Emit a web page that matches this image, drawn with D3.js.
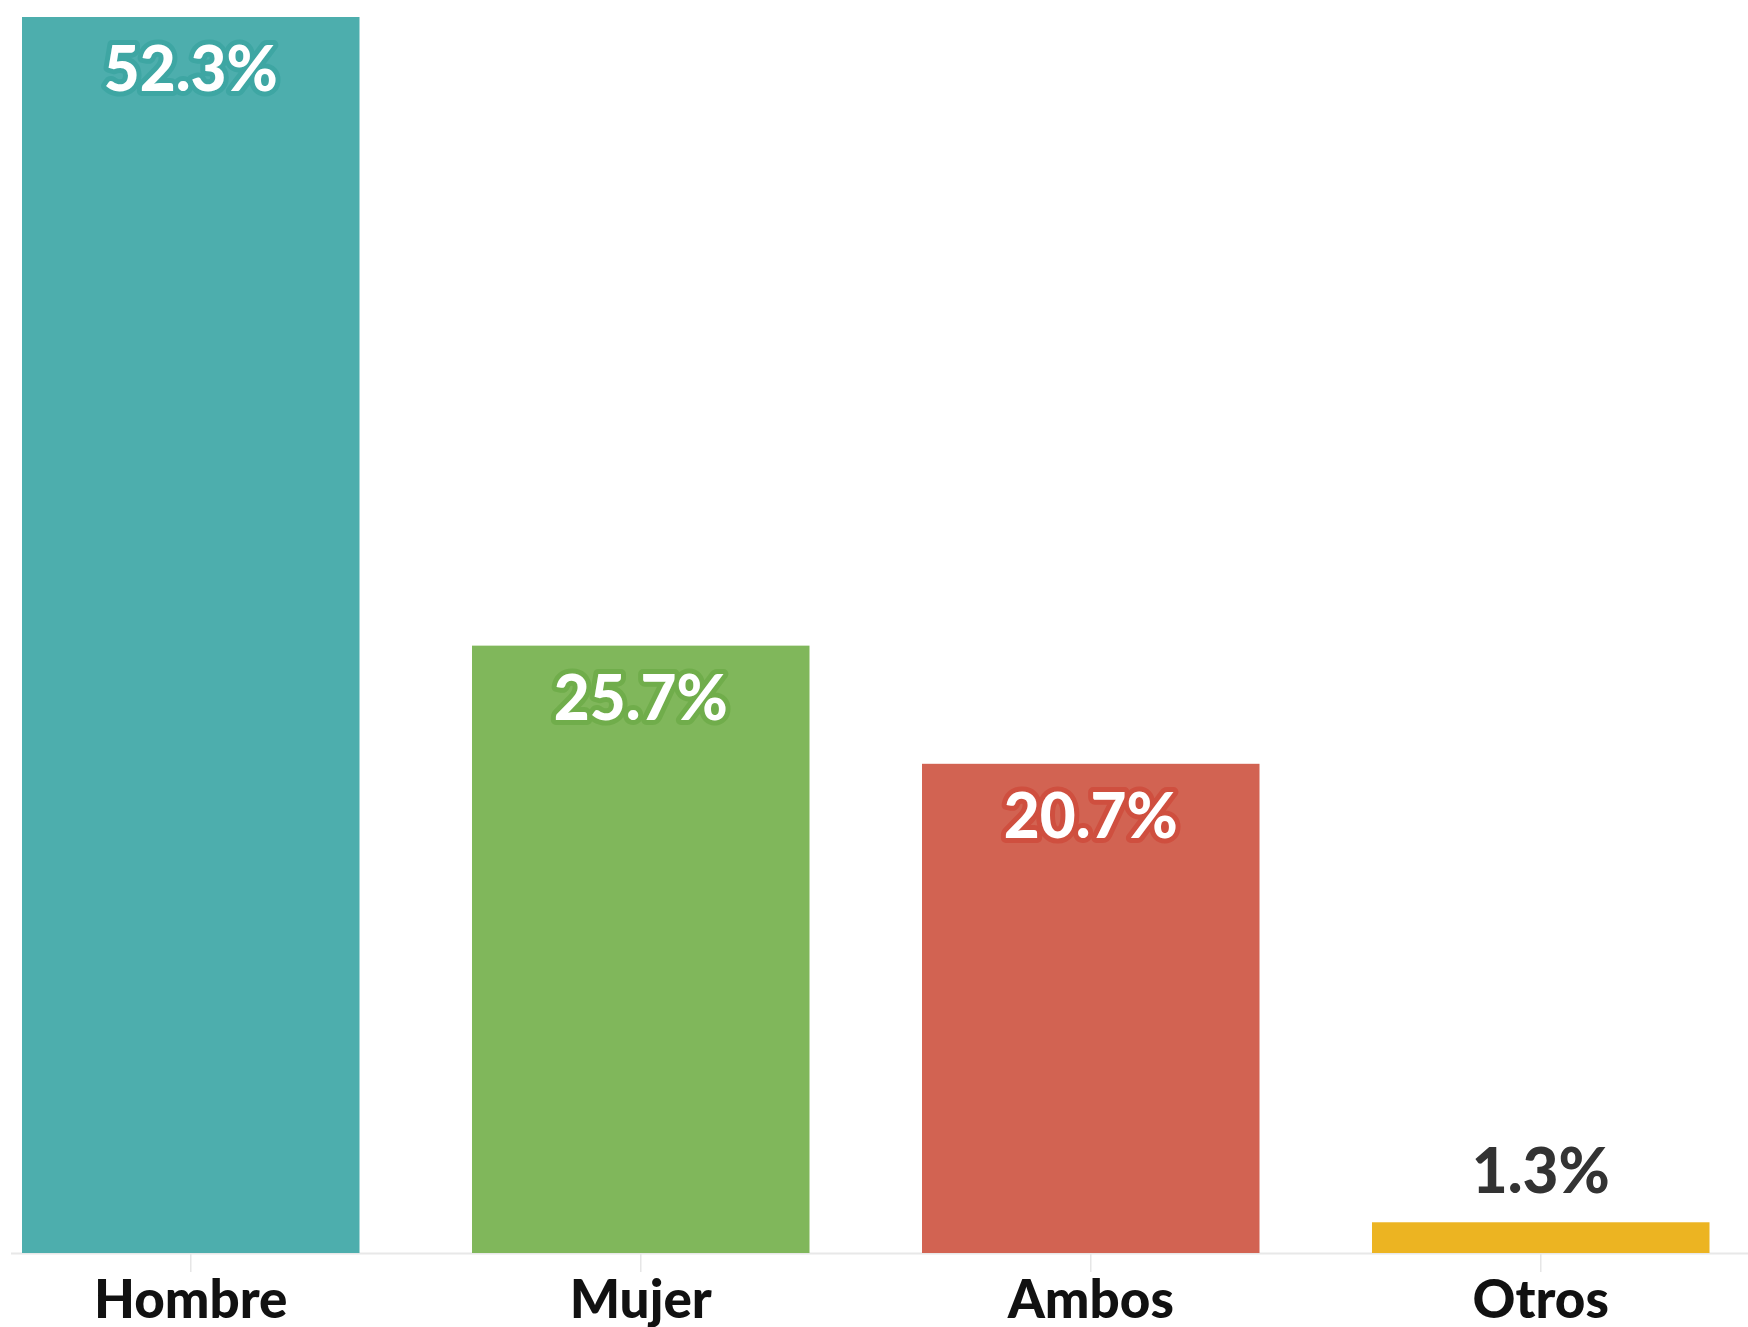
<!DOCTYPE html>
<html><head><meta charset="utf-8">
<script src="https://cdn.jsdelivr.net/npm/d3@7"></script>
<style>html,body{margin:0;padding:0;background:#fff;overflow:hidden}</style>
</head><body>
<svg id="chart" width="1748" height="1327"></svg>
<script>
const categories = ["Hombre", "Mujer", "Ambos", "Otros"];
const values = [52.3, 25.7, 20.7, 1.3];
const valueLabels = ["52.3%", "25.7%", "20.7%", "1.3%"];
const colors = ["#4daead", "#80b75b", "#d26352", "#ecb422"];
const haloColors = ["#3ea6a3", "#70ad4b", "#cf4f3f", "#ecb422"];

const svg = d3.select("#chart");
const font = "'Lato', 'Noto Sans', sans-serif";

const x = d3.scaleBand().domain(categories).range([-0.5, 1732]).paddingInner(0.25).paddingOuter(0.05);
const y = d3.scaleLinear().domain([0, d3.max(values)]).range([1253, 17]);

const data = categories.map((c, i) => ({c, v: values[i], label: valueLabels[i], color: colors[i], halo: haloColors[i]}));

// axis baseline
svg.append("line").attr("x1", 11).attr("x2", 1748).attr("y1", y(0)+0.5).attr("y2", y(0)+0.5)
  .attr("stroke", "#e8e8e8").attr("stroke-width", 2);

// bars
svg.selectAll("rect.bar").data(data).join("rect").attr("class", "bar")
  .attr("x", d => x(d.c)).attr("width", x.bandwidth())
  .attr("y", d => y(d.v)).attr("height", d => y(0) - y(d.v))
  .attr("fill", d => d.color);

// x axis
const axis = d3.axisBottom(x).tickSize(18).tickPadding(6);
const gx = svg.append("g").attr("transform", `translate(0,${y(0)+1})`).call(axis);
gx.select(".domain").remove();
gx.selectAll(".tick line").attr("stroke", "#e6e6e6").attr("stroke-width", 1.5);
gx.selectAll(".tick text").attr("font-family", font).attr("font-weight", 900)
  .attr("font-size", 53).attr("fill", "#111").attr("dy", "0.76em");

// value labels
data.forEach(d => {
  const inside = (y(0) - y(d.v)) > 120;
  const cx = x(d.c) + x.bandwidth()/2;
  const t = svg.append("text").attr("x", cx).attr("text-anchor", "middle")
    .attr("font-family", font).attr("font-weight", 900).attr("font-size", 62)
    .text(d.label);
  if (inside) {
    t.attr("y", y(d.v) + 74).attr("fill", "#fff")
     .attr("stroke", d.halo).attr("stroke-width", 10).attr("stroke-linejoin", "round")
     .attr("paint-order", "stroke");
  } else {
    t.attr("y", y(d.v) - 29).attr("fill", "#333");
  }
});
</script>
</body></html>
